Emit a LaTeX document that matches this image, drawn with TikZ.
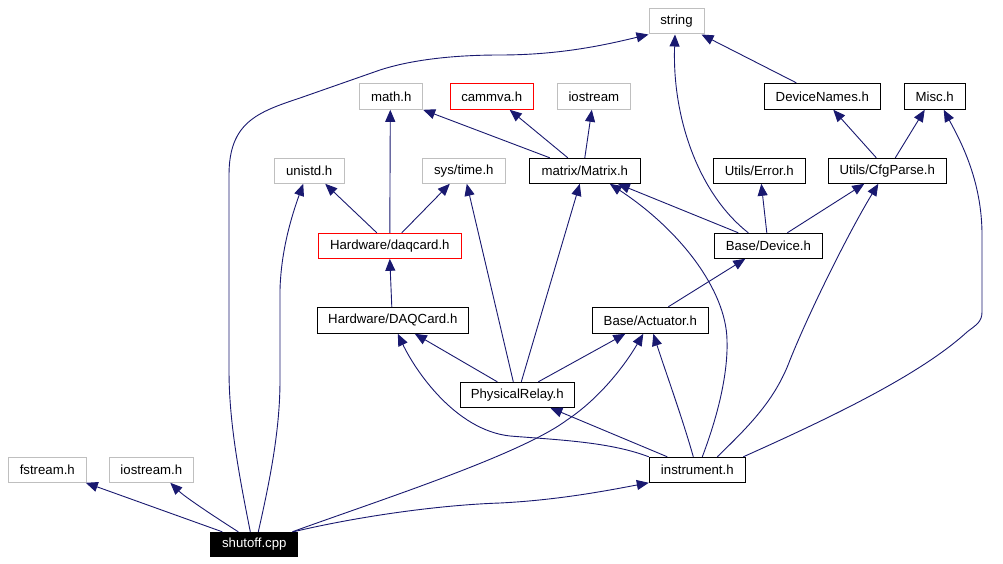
\documentclass[tikz,border=0pt]{standalone}
\usepackage{fontspec}
\setmainfont{Liberation Sans}
\usetikzlibrary{arrows.meta}
\definecolor{edgeblue}{HTML}{191970}
\definecolor{boxgrey}{HTML}{BFBFBF}
\begin{document}
\begin{tikzpicture}[x=1pt,y=-1pt,
  box/.style={draw=black, line width=1pt, rectangle, inner sep=0pt, minimum height=25pt, font=\fontsize{13.2}{15}\selectfont, text=black},
  sysbox/.style={box, draw=boxgrey},
  redbox/.style={box, draw=red},
  mainbox/.style={box, fill=black, text=white},
  dep/.style={draw=edgeblue, line width=0.9pt, -{Triangle[length=12pt,width=10pt]}},
  bw/.style={minimum width=#1 pt}]
\useasboundingbox[fill=white] (0,0) rectangle (1003,564);
% nodes
\node[sysbox,bw=55] (str) at (676.5,21.5) {string};
\node[sysbox,bw=62.7,minimum height=26pt] (math) at (391.3,96.3) {math.h};
\node[redbox,bw=83.3,minimum height=26pt] (cammva) at (491.7,96.3) {cammva.h};
\node[sysbox,bw=73,minimum height=26pt] (iostr) at (593.8,96.3) {iostream};
\node[box,bw=116,minimum height=26pt] (dn) at (822.3,96.3) {DeviceNames.h};
\node[box,bw=61.3,minimum height=26pt] (misc) at (934.7,96.3) {Misc.h};
\node[sysbox,bw=70.3] (unistd) at (309.2,170.8) {unistd.h};
\node[sysbox,bw=83] (systime) at (463.8,170.8) {sys/time.h};
\node[box,bw=111] (matrix) at (584.8,170.8) {matrix/Matrix.h};
\node[box,bw=92] (err) at (759.3,170.8) {Utils/Error.h};
\node[box,bw=118] (cfg) at (887.3,170.8) {Utils/CfgParse.h};
\node[redbox,bw=143] (daqlow) at (389.8,245.8) {Hardware/daqcard.h};
\node[box,bw=108] (dev) at (768.3,245.8) {Base/Device.h};
\node[box,bw=151,minimum height=26pt] (daqup) at (392.8,320.3) {Hardware/DAQCard.h};
\node[box,bw=116,minimum height=26pt] (act) at (650.3,320.3) {Base/Actuator.h};
\node[box,bw=114] (relay) at (517.3,394.8) {PhysicalRelay.h};
\node[box,bw=96] (instr) at (697.3,469.8) {instrument.h};
\node[sysbox,bw=78] (fstr) at (47.3,469.8) {fstream.h};
\node[sysbox,bw=84] (iostrh) at (151.3,469.8) {iostream.h};
\node[mainbox,bw=86.7,minimum height=24.4pt] (shut) at (254.3,544.5) {shutoff.cpp};
% edges
\draw[dep] ([xshift=-26pt]dn.north) -- ([xshift=25pt]str.south);
\draw[dep] ([xshift=-20pt]dev.north) .. controls (700,195) and (672,120) .. ([xshift=-1.5pt]str.south);
\draw[dep] ([xshift=-4pt]shut.north) .. controls (238,470) and (229,420) .. (229,370) -- (229,175) .. controls (229,122) and (258,112) .. (300,98) -- (380,70) .. controls (420,57) and (470,55) .. (500,55) .. controls (560,55) and (605,45) .. (str.south west);
\draw[dep] ([xshift=4pt]shut.north) .. controls (270,480) and (280,430) .. (280,380) -- (280,290) .. controls (281,250) and (292,215) .. ([xshift=-6pt]unistd.south);
\draw[dep] ([xshift=-32pt]shut.north) -- ([xshift=-1pt]fstr.south east);
\draw[dep] ([xshift=-16pt]shut.north) .. controls (215,517) and (185,497) .. ([xshift=19pt]iostrh.south);
\draw[dep] ([xshift=38pt]shut.north) .. controls (380,500) and (520,455) .. (567,420) .. controls (600,398) and (625,365) .. ([xshift=-7pt]act.south);
\draw[dep] ([xshift=39pt]shut.north) .. controls (360,516) and (440,505) .. (500,503) .. controls (560,500) and (610,490) .. (instr.south west);
\draw[dep] (instr.north west) .. controls (610,442) and (560,440) .. (510,436) .. controls (455,430) and (415,370) .. ([xshift=5pt]daqup.south);
\draw[dep] ([xshift=-30pt]instr.north) -- ([xshift=33pt]relay.south);
\draw[dep] ([xshift=-4pt]instr.north) .. controls (683,420) and (665,370) .. ([xshift=3pt]act.south);
\draw[dep] ([xshift=5pt]instr.north) .. controls (720,410) and (728,370) .. (727,340) .. controls (726,290) and (680,230) .. ([xshift=25pt]matrix.south);
\draw[dep] ([xshift=20pt]instr.north) .. controls (750,425) and (775,400) .. (790,360) .. controls (810,310) and (850,230) .. ([xshift=-9pt]cfg.south);
\draw[dep] ([xshift=46pt]instr.north) .. controls (830,418) and (920,375) .. (967,332) .. controls (976,325) and (982,322) .. (982,312) -- (982,235) .. controls (982,180) and (960,140) .. ([xshift=9pt]misc.south);
\draw[dep] ([xshift=-20pt]relay.north) -- ([xshift=22pt]daqup.south);
\draw[dep] ([xshift=21pt]relay.north) -- ([xshift=-25pt]act.south);
\draw[dep] ([xshift=4pt]relay.north) -- ([xshift=-5pt]matrix.south);
\draw[dep] ([xshift=-4pt]relay.north) -- ([xshift=3pt]systime.south);
\draw[dep] ([xshift=-1pt]daqup.north) -- (daqlow.south);
\draw[dep] ([xshift=-13pt]daqlow.north) -- ([xshift=16pt]unistd.south);
\draw[dep] (daqlow.north) -- ([xshift=-1pt]math.south);
\draw[dep] ([xshift=12pt]daqlow.north) -- ([xshift=-14pt]systime.south);
\draw[dep] ([xshift=18pt]act.north) -- ([xshift=-23pt]dev.south);
\draw[dep] ([xshift=-30pt]dev.north) -- ([xshift=33pt]matrix.south);
\draw[dep] ([xshift=-1.5pt]dev.north) -- ([xshift=2pt]err.south);
\draw[dep] ([xshift=19pt]dev.north) -- ([xshift=-23pt]cfg.south);
\draw[dep] ([xshift=-35pt]matrix.north) -- (math.south east);
\draw[dep] ([xshift=-17pt]matrix.north) -- ([xshift=18pt]cammva.south);
\draw[dep] (matrix.north) -- ([xshift=-2pt]iostr.south);
\draw[dep] ([xshift=-11pt]cfg.north) -- ([xshift=11pt]dn.south);
\draw[dep] ([xshift=8pt]cfg.north) -- ([xshift=-10pt]misc.south);
\end{tikzpicture}
\end{document}
